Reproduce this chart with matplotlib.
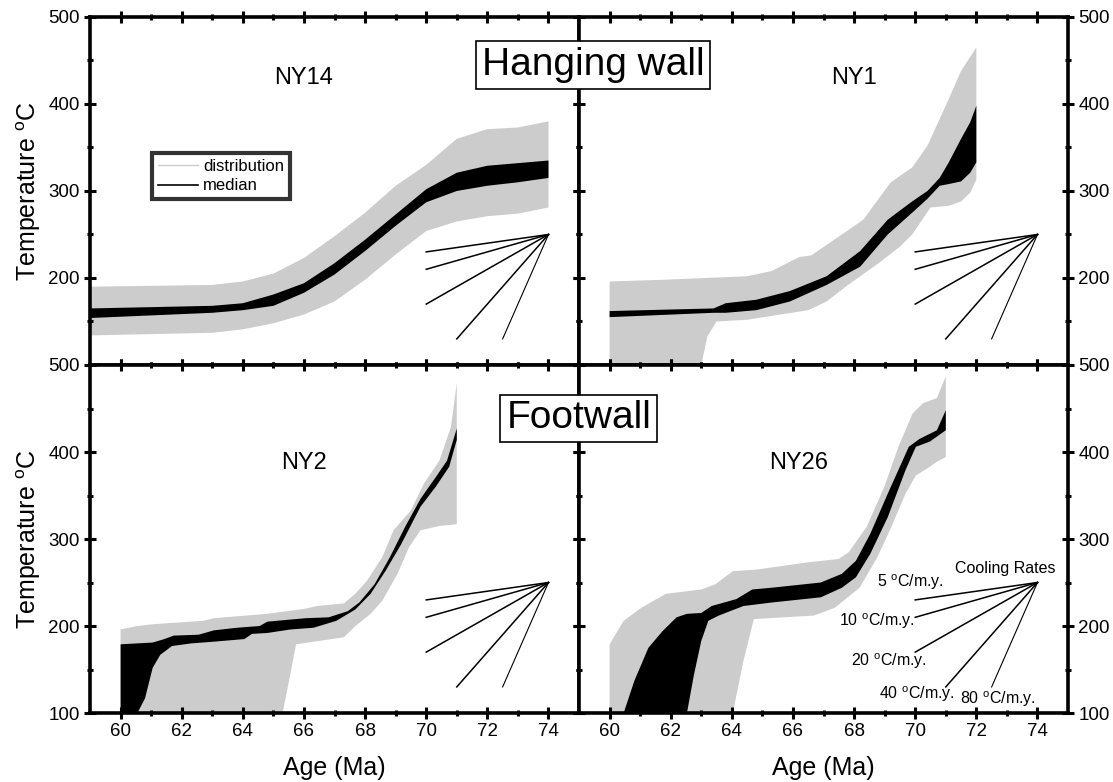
import numpy as np
import matplotlib
matplotlib.use('Agg')
import matplotlib.pyplot as plt
from matplotlib.lines import Line2D
from matplotlib.ticker import MultipleLocator, FixedLocator

plt.rcParams['font.family'] = ['Liberation Sans', 'DejaVu Sans']
plt.rcParams['mathtext.default'] = 'regular'

# NY14 (hanging wall)
ny14_x = [59, 63, 64, 65, 66, 67, 68, 69, 70, 71, 72, 73, 74]
ny14_dist_hi = [190, 192, 196, 205, 223, 248, 275, 306, 330, 360, 371, 373, 380]
ny14_dist_lo = [134, 137, 141, 148, 158, 173, 198, 227, 254, 265, 271, 274, 281]
ny14_med_hi = [165, 168, 171, 181, 194, 217, 244, 273, 302, 321, 329, 332, 335]
ny14_med_lo = [154, 160, 163, 168, 183, 204, 231, 260, 287, 300, 306, 310, 315]

# NY1 (hanging wall)
ny1_dist_hi_x = [60, 61.8, 64.5, 65.3, 66.2, 66.6, 67.6, 68.3, 69.2, 69.9, 70.4, 71.1, 71.5, 72.0]
ny1_dist_hi = [196, 198, 202, 208, 224, 226, 250, 267, 310, 327, 352, 406, 438, 465]
ny1_dist_lo_x = [60, 63.0, 63.2, 63.5, 64.5, 66.5, 67.1, 67.8, 68.8, 69.5, 69.9, 70.5, 71.1, 71.5, 71.8, 72.0]
ny1_dist_lo = [100, 100, 133, 150, 152, 163, 173, 192, 217, 236, 250, 281, 283, 288, 298, 313]
ny1_med_x = [60, 63.4, 63.8, 64.8, 65.9, 67.1, 68.2, 69.1, 69.9, 70.4, 70.8, 71.1, 71.5, 71.8, 72.0]
ny1_med_hi = [162, 165, 171, 175, 185, 202, 231, 267, 288, 300, 315, 333, 360, 379, 398]
ny1_med_lo = [155, 160, 160, 163, 173, 192, 213, 250, 275, 291, 306, 308, 311, 321, 333]

# NY2 (footwall)
ny2_dist_hi_x = [60, 60.55, 61.05, 62.7, 63.05, 64.8, 66.06, 66.43, 67.3, 67.68, 68.06, 68.56,
                 68.93, 69.5, 69.93, 70.43, 70.81, 71.0]
ny2_dist_hi = [196, 200, 202, 206, 209, 214, 220, 223, 226, 237, 252, 279, 310, 333, 364, 390, 429, 479]
ny2_dist_lo_x = [60, 65.3, 65.55, 65.74, 67.3, 67.68, 68.18, 68.56, 69.06, 69.43, 69.81, 70.43, 71.0]
ny2_dist_lo = [100, 100, 144, 179, 187, 200, 214, 229, 260, 290, 310, 315, 317]
ny2_med_hi_x = [60, 61.05, 61.43, 61.74, 62.55, 63.05, 63.8, 64.55, 64.8, 66.06, 66.81, 67.43,
                67.81, 68.31, 68.81, 69.31, 69.81, 70.31, 70.68, 71.0]
ny2_med_hi = [179, 181, 185, 189, 190, 195, 198, 200, 205, 209, 210, 217, 227, 248, 279, 314, 346, 371, 390, 427]
ny2_med_lo_x = [60, 60.55, 60.8, 61.05, 61.3, 61.68, 62.3, 63.05, 64.05, 64.3, 64.8, 65.55, 66.31,
                67.06, 67.68, 68.18, 68.68, 69.18, 69.81, 70.31, 70.75, 71.0]
ny2_med_lo = [100, 100, 117, 152, 167, 177, 180, 182, 185, 191, 192, 196, 198, 206, 219, 237, 264,
              294, 337, 360, 383, 414]

# NY26 (footwall)
ny26_dist_hi_x = [60, 60.46, 61.04, 61.84, 63.0, 63.46, 64.03, 64.84, 66.45, 67.49, 67.83, 68.41,
                  68.99, 69.45, 69.91, 70.25, 70.71, 71.0]
ny26_dist_hi = [179, 206, 221, 237, 242, 248, 263, 265, 273, 277, 285, 314, 360, 406, 444, 456, 462, 487]
ny26_dist_lo_x = [60, 64.03, 64.38, 64.72, 66.68, 67.37, 68.18, 68.76, 69.22, 69.68, 70.02, 70.48, 70.71, 71.0]
ny26_dist_lo = [100, 100, 160, 208, 212, 221, 244, 279, 314, 352, 373, 383, 389, 394]
ny26_med_hi_x = [60.46, 60.81, 61.27, 61.73, 62.19, 62.53, 63.0, 63.34, 64.15, 64.67, 65.3, 66.91,
                 67.6, 68.06, 68.53, 69.1, 69.79, 70.14, 70.71, 71.0]
ny26_med_hi = [100, 137, 175, 194, 210, 214, 215, 223, 231, 242, 244, 250, 260, 275, 306, 352, 406, 415, 425, 448]
ny26_med_lo_x = [60.46, 62.53, 62.76, 63.0, 63.23, 63.57, 64.38, 65.3, 66.91, 67.6, 68.06, 68.53,
                 69.1, 69.68, 70.02, 70.48, 71.0]
ny26_med_lo = [100, 100, 144, 183, 206, 212, 223, 227, 233, 244, 256, 283, 325, 379, 406, 412, 425]

# cooling rate fan
fan_origin = (74, 250)
fan_end_x = [70, 70, 70, 71, 72.5]
fan_end_t = [230, 210, 170, 130, 130]
fan_labels = ['5 $^o$C/m.y.', '10 $^o$C/m.y.', '20 $^o$C/m.y.', '40 $^o$C/m.y.', '80 $^o$C/m.y.']

samples = ['NY14', 'NY1', 'NY2', 'NY26']

GRAY = '#cccccc'

panels = [
    (ny14_x, ny14_dist_hi, ny14_x, ny14_dist_lo, ny14_x, ny14_med_hi, ny14_x, ny14_med_lo),
    (ny1_dist_hi_x, ny1_dist_hi, ny1_dist_lo_x, ny1_dist_lo, ny1_med_x, ny1_med_hi, ny1_med_x, ny1_med_lo),
    (ny2_dist_hi_x, ny2_dist_hi, ny2_dist_lo_x, ny2_dist_lo, ny2_med_hi_x, ny2_med_hi, ny2_med_lo_x, ny2_med_lo),
    (ny26_dist_hi_x, ny26_dist_hi, ny26_dist_lo_x, ny26_dist_lo, ny26_med_hi_x, ny26_med_hi, ny26_med_lo_x, ny26_med_lo),
]
name_pos = [(66, 430), (68, 430), (66, 387), (66.2, 387)]


def band(ax, xh, yh, xl, yl, color):
    px = list(xh) + list(xl)[::-1]
    py = list(yh) + list(yl)[::-1]
    ax.fill(px, py, color=color, lw=0)


fig, axes = plt.subplots(2, 2, figsize=(11.13, 7.82), dpi=100)
fig.subplots_adjust(left=0.0809, right=0.9596, top=0.9783, bottom=0.0882, wspace=0, hspace=0)

for i, ax in enumerate(axes.flat):
    xh, yh, xl, yl, mxh, myh, mxl, myl = panels[i]
    band(ax, xh, yh, xl, yl, GRAY)
    band(ax, mxh, myh, mxl, myl, 'black')

    for k in range(len(fan_end_x)):
        ax.plot([fan_end_x[k], fan_origin[0]], [fan_end_t[k], fan_origin[1]],
                color='black', lw=1.1 if k < 4 else 0.8)

    ax.text(name_pos[i][0], name_pos[i][1], samples[i], ha='center', va='center', fontsize=17)

    ax.set_xlim(59, 75)
    ax.set_ylim(100, 500)
    ax.xaxis.set_major_locator(FixedLocator([60, 62, 64, 66, 68, 70, 72, 74]))
    ax.xaxis.set_minor_locator(FixedLocator([61, 63, 65, 67, 69, 71, 73]))
    ax.yaxis.set_major_locator(MultipleLocator(100))
    ax.yaxis.set_minor_locator(MultipleLocator(50))
    ax.tick_params(which='both', direction='inout', top=True, right=True, width=2.2, labelsize=13.5)
    ax.tick_params(which='major', length=8)
    ax.tick_params(which='minor', length=5)
    for s in ax.spines.values():
        s.set_linewidth(2.6)

    row, col = divmod(i, 2)
    if row == 0:
        ax.tick_params(labelbottom=False)
        ax.yaxis.set_major_locator(FixedLocator([200, 300, 400, 500]))
        ax.yaxis.set_minor_locator(FixedLocator([150, 250, 350, 450, 100]))
    else:
        ax.set_xlabel('Age (Ma)', fontsize=18, labelpad=11)
    if col == 0:
        ax.set_ylabel('Temperature $^o$C', fontsize=18, labelpad=4)
    else:
        ax.tick_params(labelleft=False, labelright=True)

# legend in NY14
handles = [Line2D([], [], color=GRAY, lw=1), Line2D([], [], color='black', lw=1.2)]
leg = axes[0, 0].legend(handles, ['distribution', 'median'], loc='upper left',
                        bbox_to_anchor=(0.127, 0.608), fontsize=12, frameon=True, fancybox=False,
                        handlelength=2.4, handletextpad=0.3, borderpad=0.35, labelspacing=0.25,
                        borderaxespad=0)
leg.get_frame().set_edgecolor('black')
leg.get_frame().set_linewidth(3)

# cooling rate labels in NY26
ax = axes[1, 1]
lab_pos = [(69.85, 250), (68.75, 206), (69.15, 160), (70.05, 122), (72.7, 116)]
for (lx, ly), t in zip(lab_pos, fan_labels):
    ax.text(lx, ly, t, ha='center', va='center', fontsize=11.5)
ax.text(72.95, 266, 'Cooling Rates', ha='center', va='center', fontsize=11.5)

box = dict(boxstyle='square,pad=0.15', facecolor='white', edgecolor='black', lw=1.2)
fig.text(0.533, 0.917, 'Hanging wall', ha='center', va='center', fontsize=28, bbox=box, zorder=10)
fig.text(0.520, 0.465, 'Footwall', ha='center', va='center', fontsize=28, bbox=box, zorder=10)

fig.savefig('out.png', dpi=100)
